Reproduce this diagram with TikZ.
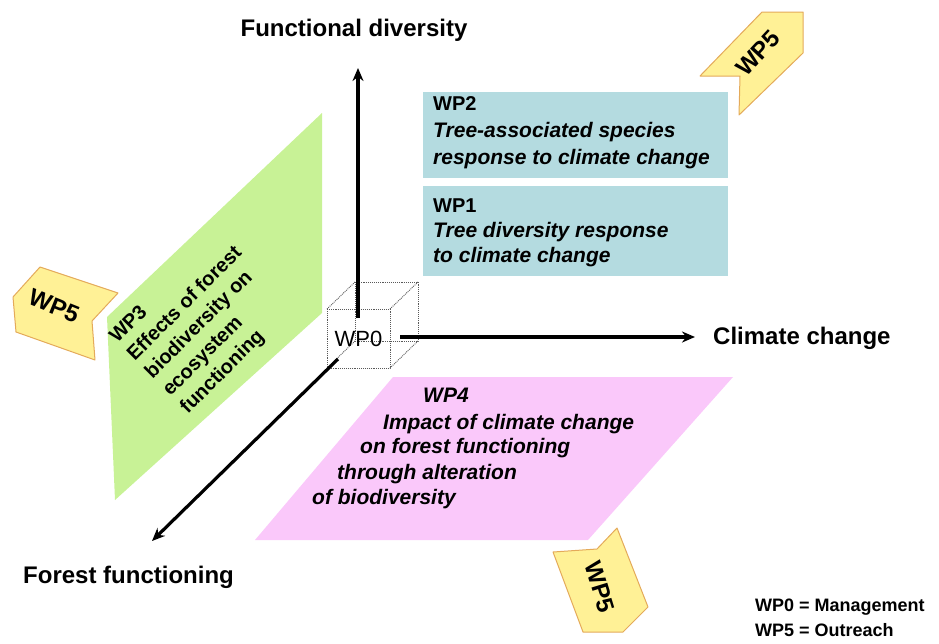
\documentclass[tikz,border=0pt]{standalone}
\usepackage{fontspec}
\setmainfont{Liberation Sans}
\usetikzlibrary{arrows.meta}
\definecolor{wpblue}{RGB}{180,219,224}
\definecolor{wpgreen}{RGB}{200,242,150}
\definecolor{wppink}{RGB}{250,200,250}
\definecolor{wpyellow}{RGB}{255,241,150}
\definecolor{wporange}{RGB}{228,170,90}
\begin{document}
\begin{tikzpicture}[x=1pt,y=-1pt,
  axis/.style={line width=3.2pt, -{Stealth[length=13pt,width=11pt]}},
  axislabel/.style={font=\fontsize{24}{28}\selectfont\bfseries, inner sep=0pt},
  desc/.style={font=\fontsize{21}{25}\selectfont\bfseries\itshape, inner sep=0pt, anchor=base west},
  head/.style={font=\fontsize{20}{24}\selectfont\bfseries, inner sep=0pt, anchor=base west},
  chev/.style={fill=wpyellow, draw=wporange, line width=1pt, line join=round},
  chevtext/.style={font=\fontsize{24}{28}\selectfont\bfseries, inner sep=0pt},
  cubeedge/.style={draw=gray!70!black, densely dotted, line width=0.9pt},
  wpbox/.style={fill=wpblue, inner sep=0pt, anchor=north west, minimum width=305pt, minimum height=86pt},
  legend/.style={font=\fontsize{18}{22}\selectfont\bfseries, inner sep=0pt, anchor=west},
]
\useasboundingbox (0,0) rectangle (939,643);

% planes
\fill[wpgreen] (107,317) -- (322,113) -- (322,313) -- (115,500) -- cycle;
\fill[wppink] (393,377) -- (733,377) -- (588,540) -- (255,540) -- cycle;

% blue boxes
\node[wpbox] (wp2box) at (423,92) {};
\node[wpbox, minimum height=90pt] (wp1box) at (423,186) {};

% WP2 text
\node[head] (wp2h) at (433,110) {WP2};
\node[desc] (wp2a) at (433,137) {Tree-associated species};
\node[desc] (wp2b) at (433,164) {response to climate change};
% WP1 text
\node[head] (wp1h) at (433,212) {WP1};
\node[desc] (wp1a) at (433,237) {Tree diversity response};
\node[desc] (wp1b) at (433,262) {to climate change};

% WP3 text
\node[font=\fontsize{20}{25}\selectfont\bfseries, align=left, rotate=45, inner sep=0pt] (wp3) at (203,322)
  {WP3\\Effects of forest\\biodiversity on\\ecosystem\\functioning};

% WP4 text
\node[desc] (wp4h) at (423,402) {WP4};
\node[desc] (wp4a) at (383,429) {Impact of climate change};
\node[desc] (wp4b) at (360,453) {on forest functioning};
\node[desc] (wp4c) at (337,479) {through alteration};
\node[desc] (wp4d) at (312,504) {of biodiversity};

% cube
\fill[white] (327,309) -- (355,282) -- (418,282) -- (418,341) -- (390,368) -- (327,368) -- cycle;
\draw[cubeedge] (355,282) rectangle (418,341);
\draw[cubeedge] (327,309) -- (355,282) (390,309) -- (418,282) (390,368) -- (418,341) (327,368) -- (355,341);
\draw[cubeedge] (327,309) rectangle (390,368);
\node[font=\fontsize{22}{26}\selectfont, inner sep=0pt] (wp0) at (358.5,338.5) {WP0};

% axes
\coordinate (fdbase) at (358,318);
\coordinate (fdtip) at (358,68);
\coordinate (ccbase) at (400,337);
\coordinate (cctip) at (695,337);
\coordinate (ffbase) at (338,359);
\coordinate (fftip) at (152,541);
\draw[axis] (fdbase) -- (fdtip);
\draw[axis] (ccbase) -- (cctip);
\draw[axis] (ffbase) -- (fftip);

\node[axislabel] (fd) at (354,30) {Functional diversity};
\node[axislabel, anchor=west] (cc) at (713,338) {Climate change};
\node[axislabel, anchor=west] (ff) at (23,577) {Forest functioning};

% WP5 chevrons
\draw[chev] (700,76) -- (740,76) -- (739,115) -- (803,53) -- (803,12) -- (762,12) -- cycle;
\node[chevtext, rotate=47] (wp5tr) at (758,53) {WP5};
\draw[chev] (40,267) -- (118,293) -- (92,321) -- (95,360) -- (16,332) -- (13,297) -- cycle;
\node[chevtext, rotate=-22] (wp5l) at (54,306) {WP5};
\draw[chev] (553,552) -- (597,549) -- (617,528) -- (648,607) -- (623,632) -- (583,632) -- cycle;
\node[chevtext, rotate=-73] (wp5b) at (600,587) {WP5};

% legend
\node[legend] (leg1) at (755,607) {WP0 = Management};
\node[legend] (leg2) at (755,630) {WP5 = Outreach};
\end{tikzpicture}
\end{document}
